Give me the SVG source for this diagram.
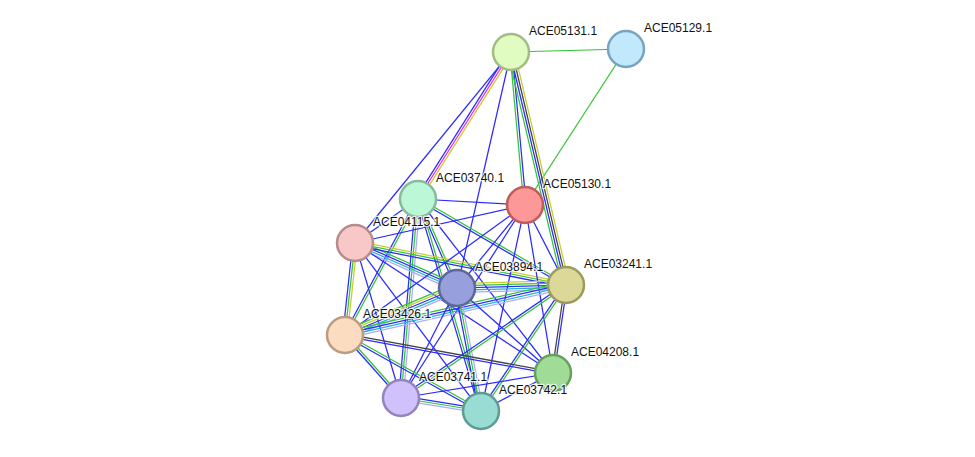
<svg xmlns="http://www.w3.org/2000/svg" width="975" height="457" viewBox="0 0 975 457">
<style>
line{stroke-width:1.25;fill:none}
.b{stroke:#2a2aff}
.g{stroke:#33c433}
.y{stroke:#c8cc33}
.m{stroke:#ee22ee}
.k{stroke:#444}
.c{stroke:#22b4cc}
.l{stroke:#aaaaff}
circle{stroke-width:2.5}
text{font-family:"Liberation Sans",Arial,sans-serif;font-size:12px;fill:#111;stroke:#fff;stroke-width:2.5;stroke-opacity:0.8;paint-order:stroke;stroke-linejoin:round}
</style>
<rect width="975" height="457" fill="#fff"/>
<g id="edges">
<line class="g" x1="511" y1="52" x2="626" y2="49"/>
<line class="g" x1="626" y1="49" x2="525" y2="205"/>
<line class="b" x1="511" y1="52" x2="355" y2="243"/>
<line class="b" x1="509.11" y1="50.81" x2="416.11" y2="197.81"/>
<line class="m" x1="511" y1="52" x2="418" y2="199"/>
<line class="y" x1="512.89" y1="53.19" x2="419.89" y2="200.19"/>
<line class="b" x1="511" y1="52" x2="457" y2="288"/>
<line class="g" x1="509.88" y1="52" x2="523.88" y2="205"/>
<line class="b" x1="512.12" y1="52" x2="526.12" y2="205"/>
<line class="g" x1="507.73" y1="52.77" x2="562.73" y2="285.77"/>
<line class="b" x1="509.91" y1="52.26" x2="564.91" y2="285.26"/>
<line class="k" x1="512.09" y1="51.74" x2="567.09" y2="284.74"/>
<line class="y" x1="514.27" y1="51.23" x2="569.27" y2="284.23"/>
<line class="b" x1="418" y1="199" x2="355" y2="243"/>
<line class="b" x1="418" y1="199" x2="525" y2="205"/>
<line class="b" x1="416.98" y1="199.45" x2="455.98" y2="288.45"/>
<line class="g" x1="419.02" y1="198.55" x2="458.02" y2="287.55"/>
<line class="b" x1="417.44" y1="199.97" x2="565.44" y2="285.97"/>
<line class="g" x1="418.56" y1="198.03" x2="566.56" y2="284.03"/>
<line class="b" x1="417.02" y1="198.47" x2="344.02" y2="334.47"/>
<line class="g" x1="418.98" y1="199.53" x2="345.98" y2="335.53"/>
<line class="b" x1="415.77" y1="198.8" x2="398.77" y2="397.8"/>
<line class="g" x1="418" y1="199" x2="401" y2="398"/>
<line class="l" x1="420.23" y1="199.2" x2="403.23" y2="398.2"/>
<line class="b" x1="416.92" y1="199.32" x2="479.92" y2="411.32"/>
<line class="g" x1="419.08" y1="198.68" x2="482.08" y2="410.68"/>
<line class="b" x1="418" y1="199" x2="553" y2="373"/>
<line class="b" x1="355" y1="243" x2="525" y2="205"/>
<line class="g" x1="356.36" y1="239.92" x2="458.36" y2="284.92"/>
<line class="b" x1="355.45" y1="241.98" x2="457.45" y2="286.98"/>
<line class="c" x1="354.55" y1="244.02" x2="456.55" y2="289.02"/>
<line class="l" x1="353.64" y1="246.08" x2="455.64" y2="291.08"/>
<line class="y" x1="355.43" y1="240.8" x2="566.43" y2="282.8"/>
<line class="g" x1="355" y1="243" x2="566" y2="285"/>
<line class="b" x1="354.57" y1="245.2" x2="565.57" y2="287.2"/>
<line class="b" x1="352.77" y1="242.76" x2="342.77" y2="334.76"/>
<line class="g" x1="355" y1="243" x2="345" y2="335"/>
<line class="y" x1="357.23" y1="243.24" x2="347.23" y2="335.24"/>
<line class="b" x1="355" y1="243" x2="401" y2="398"/>
<line class="b" x1="355" y1="243" x2="481" y2="411"/>
<line class="b" x1="355" y1="243" x2="553" y2="373"/>
<line class="b" x1="525" y1="205" x2="457" y2="288"/>
<line class="b" x1="525" y1="205" x2="566" y2="285"/>
<line class="b" x1="525" y1="205" x2="345" y2="335"/>
<line class="b" x1="525" y1="205" x2="553" y2="373"/>
<line class="b" x1="525" y1="205" x2="401" y2="398"/>
<line class="b" x1="525" y1="205" x2="481" y2="411"/>
<line class="y" x1="457" y1="283.52" x2="566" y2="280.52"/>
<line class="g" x1="457" y1="285.76" x2="566" y2="282.76"/>
<line class="b" x1="457" y1="288" x2="566" y2="285"/>
<line class="c" x1="457" y1="290.24" x2="566" y2="287.24"/>
<line class="l" x1="457" y1="292.48" x2="566" y2="289.48"/>
<line class="g" x1="455.26" y1="283.87" x2="343.26" y2="330.87"/>
<line class="y" x1="456.13" y1="285.94" x2="344.13" y2="332.94"/>
<line class="b" x1="457" y1="288" x2="345" y2="335"/>
<line class="c" x1="457.87" y1="290.06" x2="345.87" y2="337.06"/>
<line class="l" x1="458.74" y1="292.13" x2="346.74" y2="339.13"/>
<line class="g" x1="565.26" y1="281.72" x2="344.26" y2="331.72"/>
<line class="b" x1="565.75" y1="283.91" x2="344.75" y2="333.91"/>
<line class="c" x1="566.25" y1="286.09" x2="345.25" y2="336.09"/>
<line class="l" x1="566.74" y1="288.28" x2="345.74" y2="338.28"/>
<line class="b" x1="454.8" y1="288.43" x2="478.8" y2="411.43"/>
<line class="g" x1="457" y1="288" x2="481" y2="411"/>
<line class="l" x1="459.2" y1="287.57" x2="483.2" y2="410.57"/>
<line class="b" x1="457" y1="288" x2="401" y2="398"/>
<line class="b" x1="457" y1="288" x2="553" y2="373"/>
<line class="k" x1="564.89" y1="284.83" x2="551.89" y2="372.83"/>
<line class="b" x1="567.11" y1="285.17" x2="554.11" y2="373.17"/>
<line class="b" x1="565.37" y1="284.08" x2="400.37" y2="397.08"/>
<line class="g" x1="566.63" y1="285.92" x2="401.63" y2="398.92"/>
<line class="b" x1="565.08" y1="284.37" x2="480.08" y2="410.37"/>
<line class="g" x1="566.92" y1="285.63" x2="481.92" y2="411.63"/>
<line class="k" x1="345.2" y1="333.89" x2="553.2" y2="371.89"/>
<line class="b" x1="344.8" y1="336.11" x2="552.8" y2="374.11"/>
<line class="b" x1="344.16" y1="335.74" x2="400.16" y2="398.74"/>
<line class="g" x1="345.84" y1="334.26" x2="401.84" y2="397.26"/>
<line class="b" x1="344.45" y1="335.98" x2="480.45" y2="411.98"/>
<line class="g" x1="345.55" y1="334.02" x2="481.55" y2="410.02"/>
<line class="b" x1="553" y1="373" x2="401" y2="398"/>
<line class="b" x1="553" y1="373" x2="481" y2="411"/>
<line class="b" x1="401.36" y1="395.79" x2="481.36" y2="408.79"/>
<line class="g" x1="401" y1="398" x2="481" y2="411"/>
<line class="l" x1="400.64" y1="400.21" x2="480.64" y2="413.21"/>
</g>
<g id="ACE05131.1"><circle cx="511" cy="52" r="18" fill="#e0fcc0" stroke="#a3bc84"/><text x="529" y="35">ACE05131.1</text></g>
<g id="ACE05129.1"><circle cx="626" cy="49" r="18" fill="#c2e8fc" stroke="#78a4c0"/><text x="644" y="32">ACE05129.1</text></g>
<g id="ACE05130.1"><circle cx="525" cy="205" r="18" fill="#fc9898" stroke="#c05c5c"/><text x="543" y="188">ACE05130.1</text></g>
<g id="ACE03740.1"><circle cx="418" cy="199" r="18" fill="#bcf8d8" stroke="#84bc9c"/><text x="436" y="182">ACE03740.1</text></g>
<g id="ACE04115.1"><circle cx="355" cy="243" r="18" fill="#f8c8c8" stroke="#b88c8c"/><text x="373" y="226">ACE04115.1</text></g>
<g id="ACE03894.1"><circle cx="457" cy="288" r="18" fill="#97a0dc" stroke="#5e6898"/><text x="475" y="271">ACE03894.1</text></g>
<g id="ACE03241.1"><circle cx="566" cy="285" r="18" fill="#dcd898" stroke="#9c9a5c"/><text x="584" y="268">ACE03241.1</text></g>
<g id="ACE03426.1"><circle cx="345" cy="335" r="18" fill="#fcdcc0" stroke="#bc9c80"/><text x="363" y="318">ACE03426.1</text></g>
<g id="ACE04208.1"><circle cx="553" cy="373" r="18" fill="#a0dc98" stroke="#66a05c"/><text x="571" y="356">ACE04208.1</text></g>
<g id="ACE03741.1"><circle cx="401" cy="398" r="18" fill="#d0c0fc" stroke="#9484bc"/><text x="419" y="381">ACE03741.1</text></g>
<g id="ACE03742.1"><circle cx="481" cy="411" r="18" fill="#98dcd4" stroke="#5e9c94"/><text x="499" y="394">ACE03742.1</text></g>
</svg>
